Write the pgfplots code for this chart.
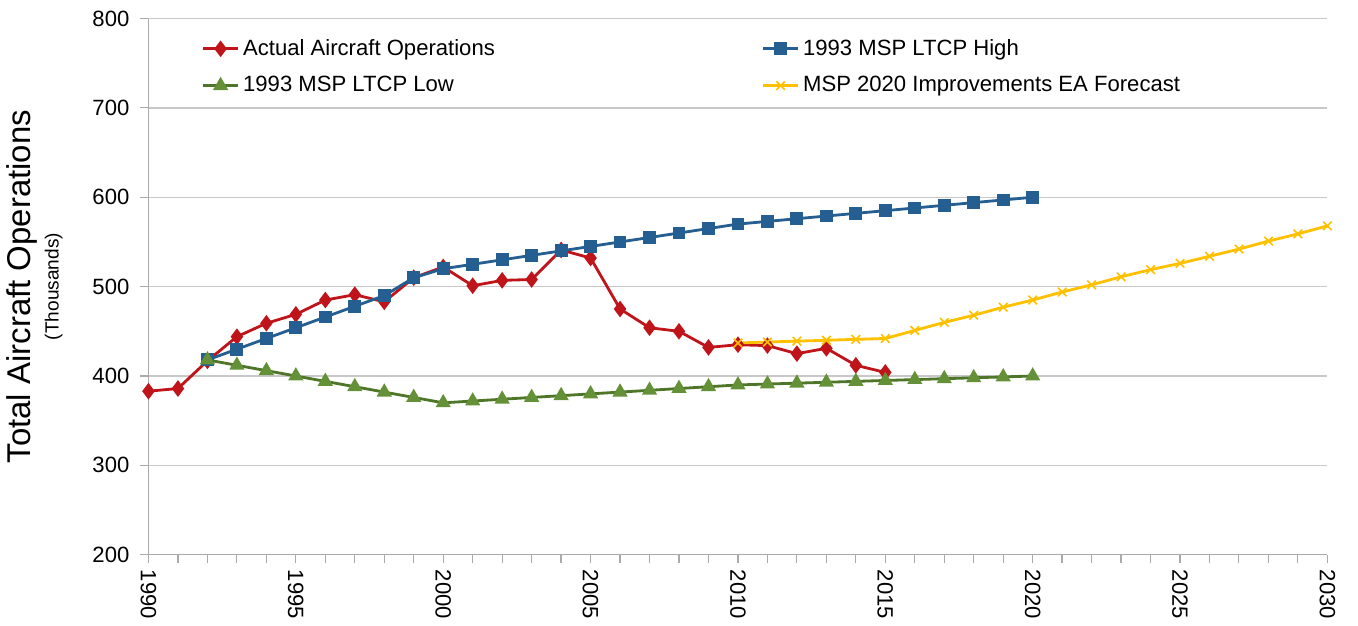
\documentclass[border=0pt]{standalone}
\usepackage{fontspec}
\setmainfont{Liberation Sans}
\usepackage{pgfplots}
\pgfplotsset{compat=1.18}

\definecolor{actred}{RGB}{192,20,27}
\definecolor{highblue}{RGB}{37,94,145}
\definecolor{lowgreen}{RGB}{79,118,40}
\definecolor{lowfill}{RGB}{100,145,55}
\definecolor{fcyellow}{RGB}{255,192,0}
\definecolor{gridgray}{RGB}{200,200,200}
\definecolor{axgray}{RGB}{170,170,170}

\begin{document}
\begin{tikzpicture}
\begin{axis}[
    scale only axis,
    width=587pt, height=267pt,
    xmin=1990, xmax=2030,
    ymin=200, ymax=800,
    xtick={1990,1995,...,2030},
    minor xtick={1990,...,2030},
    ytick={200,300,...,800},
    axis x line*=bottom, axis y line*=left,
    axis line style={axgray, line width=0.6pt, -},
    tick align=outside,
    major tick length=4pt, minor tick length=4pt,
    tick style={axgray, line width=0.6pt},
    ymajorgrids, grid style={gridgray, line width=0.7pt},
    xticklabel style={rotate=-90, anchor=west, font=\fontsize{11}{13}\selectfont},
    yticklabel style={font=\fontsize{11}{13}\selectfont, xshift=-2pt},
    /pgf/number format/assume math mode=true,
    /pgf/number format/1000 sep={},
    ylabel={{\fontsize{16.4}{14}\selectfont Total Aircraft Operations}\\{\fontsize{9.5}{11}\selectfont (Thousands)}},
    ylabel style={align=center, font=\fontsize{16.4}{14}\selectfont},
    ylabel shift=8pt,
    legend columns=2,
    legend cell align=left,
    legend style={draw=none, fill=none, at={(0.04,0.977)}, anchor=north west,
        font=\fontsize{11}{13}\selectfont, row sep=5pt,
        /tikz/column 2/.style={column sep=131pt}},
]
\addplot[actred, line width=1.4pt, mark=diamond*, mark size=3pt] coordinates {
(1990,383) (1991,386) (1992,417) (1993,444) (1994,459) (1995,469) (1996,485)
(1997,491) (1998,483) (1999,510) (2000,522) (2001,501) (2002,507) (2003,508)
(2004,541) (2005,532) (2006,475) (2007,454) (2008,450) (2009,432) (2010,435)
(2011,434) (2012,425) (2013,431) (2014,412) (2015,404)
};
\addlegendentry{Actual Aircraft Operations}
\addplot[highblue, line width=1.4pt, mark=square*, mark size=2.5pt] coordinates {
(1992,418) (1993,430) (1994,442) (1995,454) (1996,466) (1997,478) (1998,490)
(1999,510) (2000,520) (2001,525) (2002,530) (2003,535) (2004,540) (2005,545)
(2006,550) (2007,555) (2008,560) (2009,565) (2010,570) (2011,573) (2012,576)
(2013,579) (2014,582) (2015,585) (2016,588) (2017,591) (2018,594) (2019,597)
(2020,600)
};
\addlegendentry{1993 MSP LTCP High}
\addplot[lowgreen, line width=1.4pt, mark=triangle*, mark size=3pt,
    mark options={fill=lowfill, draw=lowfill}] coordinates {
(1992,418) (1993,412) (1994,406) (1995,400) (1996,394) (1997,388) (1998,382)
(1999,376) (2000,370) (2001,372) (2002,374) (2003,376) (2004,378) (2005,380)
(2006,382) (2007,384) (2008,386) (2009,388) (2010,390) (2011,391) (2012,392)
(2013,393) (2014,394) (2015,395) (2016,396) (2017,397) (2018,398) (2019,399)
(2020,400)
};
\addlegendentry{1993 MSP LTCP Low}
\addplot[fcyellow, line width=1.4pt, mark=x, mark size=3pt,
    mark options={line width=0.8pt}] coordinates {
(2010,437) (2011,438) (2012,439) (2013,440) (2014,441) (2015,442) (2016,451)
(2017,460) (2018,468) (2019,477) (2020,485) (2021,494) (2022,502) (2023,511)
(2024,519) (2025,526) (2026,534) (2027,542) (2028,551) (2029,559) (2030,568)
};
\addlegendentry{MSP 2020 Improvements EA Forecast}
\end{axis}
\path ([xshift=8pt]current axis.outer east);
\path ([yshift=2pt]current axis.outer north);
\end{tikzpicture}
\end{document}
